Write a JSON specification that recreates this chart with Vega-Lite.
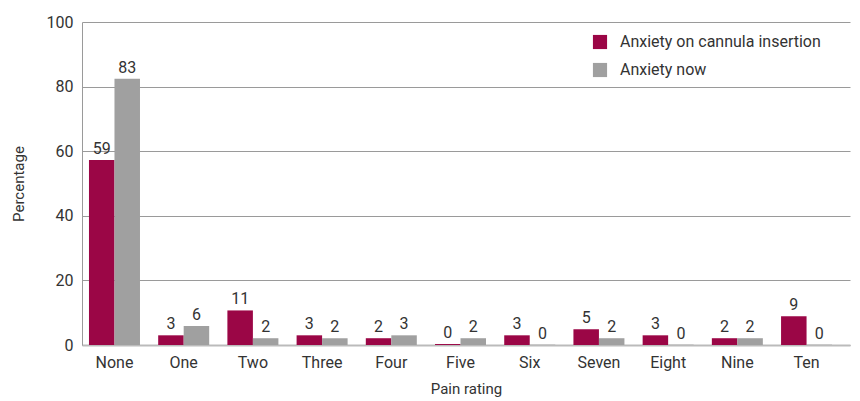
{
  "$schema": "https://vega.github.io/schema/vega-lite/v6.json",
  "width": 768,
  "height": 323,
  "autosize": {"type": "none"},
  "padding": {"left": 82, "top": 22, "right": 10, "bottom": 56},
  "config": {
    "font": "Roboto",
    "view": {"stroke": null},
    "axis": {"labelFont": "Roboto", "titleFont": "Roboto", "labelColor": "#333", "titleColor": "#333", "titleFontWeight": "normal"}
  },
  "data": {
    "values": [
      {"rating": "None", "series": "Anxiety on cannula insertion", "value": 57.3, "label": "59"},
      {"rating": "None", "series": "Anxiety now", "value": 82.4, "label": "83"},
      {"rating": "One", "series": "Anxiety on cannula insertion", "value": 3, "label": "3"},
      {"rating": "One", "series": "Anxiety now", "value": 5.9, "label": "6"},
      {"rating": "Two", "series": "Anxiety on cannula insertion", "value": 10.7, "label": "11"},
      {"rating": "Two", "series": "Anxiety now", "value": 2.1, "label": "2"},
      {"rating": "Three", "series": "Anxiety on cannula insertion", "value": 3, "label": "3"},
      {"rating": "Three", "series": "Anxiety now", "value": 2.1, "label": "2"},
      {"rating": "Four", "series": "Anxiety on cannula insertion", "value": 2.1, "label": "2"},
      {"rating": "Four", "series": "Anxiety now", "value": 3, "label": "3"},
      {"rating": "Five", "series": "Anxiety on cannula insertion", "value": 0.3, "label": "0"},
      {"rating": "Five", "series": "Anxiety now", "value": 2.1, "label": "2"},
      {"rating": "Six", "series": "Anxiety on cannula insertion", "value": 3, "label": "3"},
      {"rating": "Six", "series": "Anxiety now", "value": 0.1, "label": "0"},
      {"rating": "Seven", "series": "Anxiety on cannula insertion", "value": 4.9, "label": "5"},
      {"rating": "Seven", "series": "Anxiety now", "value": 2.1, "label": "2"},
      {"rating": "Eight", "series": "Anxiety on cannula insertion", "value": 3, "label": "3"},
      {"rating": "Eight", "series": "Anxiety now", "value": 0.1, "label": "0"},
      {"rating": "Nine", "series": "Anxiety on cannula insertion", "value": 2.1, "label": "2"},
      {"rating": "Nine", "series": "Anxiety now", "value": 2.1, "label": "2"},
      {"rating": "Ten", "series": "Anxiety on cannula insertion", "value": 8.9, "label": "9"},
      {"rating": "Ten", "series": "Anxiety now", "value": 0.1, "label": "0"}
    ]
  },
  "encoding": {
    "x": {
      "field": "rating", "type": "nominal",
      "sort": ["None", "One", "Two", "Three", "Four", "Five", "Six", "Seven", "Eight", "Nine", "Ten"],
      "scale": {"paddingInner": 0.263, "paddingOuter": 0.18, "align": 0.28},
      "axis": {"title": "Pain rating", "labelAngle": 0, "labelFontSize": 16, "titleFontSize": 15, "ticks": false, "labelPadding": 9, "titlePadding": 11, "domainColor": "#bbb", "domainWidth": 2}
    },
    "xOffset": {"field": "series", "type": "nominal", "sort": ["Anxiety on cannula insertion", "Anxiety now"]},
    "y": {
      "field": "value", "type": "quantitative",
      "scale": {"domain": [0, 100]},
      "axis": {"title": "Percentage", "values": [0, 20, 40, 60, 80, 100], "labelFontSize": 16, "titleFontSize": 15, "ticks": false, "labelPadding": 9, "titlePadding": 20, "gridColor": "#9a9a9a", "gridWidth": 1, "domainColor": "#9a9a9a"}
    }
  },
  "layer": [
    {
      "mark": {"type": "bar"},
      "encoding": {
        "color": {
          "field": "series", "type": "nominal",
          "sort": ["Anxiety on cannula insertion", "Anxiety now"],
          "scale": {"range": ["#9b0646", "#a0a0a0"]},
          "legend": {"title": null, "orient": "none", "legendX": 510, "legendY": 12, "symbolType": "square", "symbolSize": 200, "labelFontSize": 16, "labelFont": "Roboto", "labelColor": "#333", "labelLimit": 400, "labelOffset": 12, "rowPadding": 12, "symbolStrokeWidth": 0}
        }
      }
    },
    {
      "mark": {"type": "text", "baseline": "bottom", "dy": -3, "fontSize": 16, "color": "#333"},
      "encoding": {"text": {"field": "label"}}
    }
  ]
}
